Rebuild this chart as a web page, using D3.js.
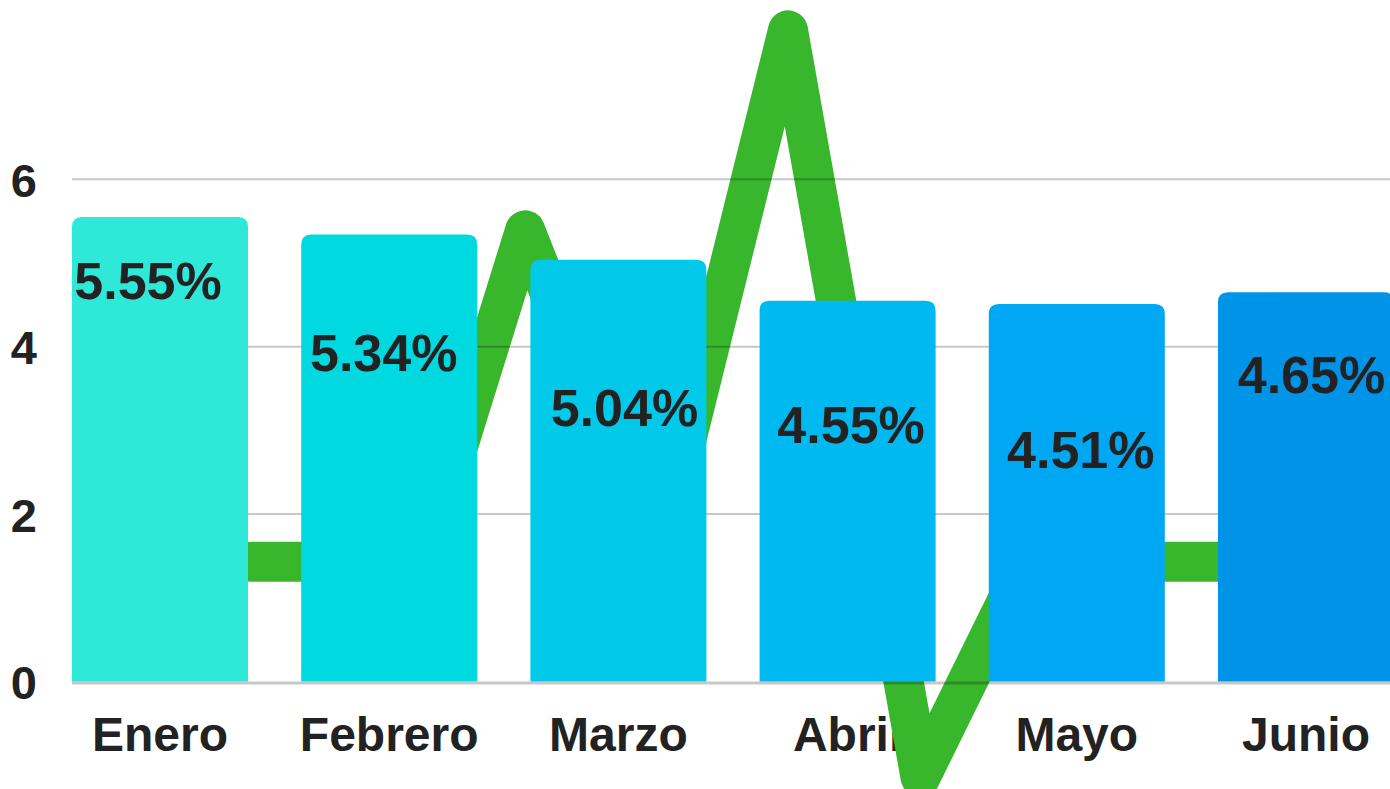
<!DOCTYPE html>
<html>
<head>
<meta charset="utf-8">
<script src="https://cdn.jsdelivr.net/npm/d3@7/dist/d3.min.js"></script>
<style>
  html, body { margin: 0; padding: 0; background: #fff; overflow: hidden; }
  svg { display: block; font-family: "Liberation Sans", Arial, sans-serif; }
</style>
</head>
<body>
<div id="chart"></div>
<script>
const months = ['Enero', 'Febrero', 'Marzo', 'Abril', 'Mayo', 'Junio'];
const rates = [5.55, 5.34, 5.04, 4.55, 4.51, 4.65];
const barColors = ['#2ee9d7', '#00d9e0', '#00c9ea', '#00b9f1', '#00a8f3', '#0094e9'];
const yTicks = [0, 2, 4, 6];

// green line: position along the month axis (0 = Enero ... 5 = Junio) and value
const lineIdx = [0.40, 1.143, 1.593, 2.164, 2.740, 3.318, 3.780, 4.80];
const lineValues = [1.43, 1.43, 5.39, 1.43, 7.78, -1.14, 1.43, 1.43];

// hand placed value labels: shift from bar centre, baseline below bar top
const labelNudge = [[-12, 82], [-5.5, 136], [6, 166], [3.5, 142], [4, 164], [5.5, 101]];

const width = 1390, height = 789;
const svg = d3.select('#chart').append('svg')
    .attr('width', width).attr('height', height);

const x = d3.scaleBand().domain(months).range([72, 1394]).paddingInner(0.232).paddingOuter(0);
const bw = x.bandwidth();
const y = d3.scaleLinear().domain([0, 6]).range([681.5, 179.3]);
const xLine = d3.scaleLinear().domain([0, 5])
    .range([x(months[0]) + bw / 2, x(months[5]) + bw / 2]);

// month labels (the line runs over them)
svg.append('g').selectAll('text').data(months).join('text')
    .attr('x', d => x(d) + bw / 2).attr('y', 751)
    .attr('text-anchor', 'middle')
    .attr('font-size', 48).attr('font-weight', 'bold').attr('fill', '#222')
    .text(d => d);

// line
const line = d3.line().x(d => xLine(d[0])).y(d => y(d[1]));
svg.append('path')
    .datum(lineIdx.map((v, i) => [v, lineValues[i]]))
    .attr('fill', 'none').attr('stroke', '#38b72c')
    .attr('stroke-width', 40).attr('stroke-linejoin', 'round').attr('stroke-linecap', 'round')
    .attr('d', line);

// grid lines over the line, under the bars
svg.append('g').selectAll('line').data(yTicks).join('line')
    .attr('x1', 72).attr('x2', 1394)
    .attr('y1', d => d === 0 ? y(d) + 1.5 : y(d))
    .attr('y2', d => d === 0 ? y(d) + 1.5 : y(d))
    .attr('stroke', 'rgba(0,0,0,0.22)')
    .attr('stroke-width', d => d === 0 ? 3 : 2);

// bars with rounded tops
const r = 10;
function barPath(x0, y0, w, h) {
    return `M${x0},${y0 + h}V${y0 + r}Q${x0},${y0} ${x0 + r},${y0}H${x0 + w - r}` +
        `Q${x0 + w},${y0} ${x0 + w},${y0 + r}V${y0 + h}Z`;
}
svg.append('g').selectAll('path').data(rates).join('path')
    .attr('fill', (d, i) => barColors[i])
    .attr('d', (d, i) => barPath(x(months[i]), y(d), bw, y(0) - y(d)));

// value labels
svg.append('g').selectAll('text').data(rates).join('text')
    .attr('x', (d, i) => x(months[i]) + bw / 2 + labelNudge[i][0])
    .attr('y', (d, i) => y(d) + labelNudge[i][1])
    .attr('text-anchor', 'middle')
    .attr('font-size', 52).attr('font-weight', 'bold').attr('fill', '#222')
    .text(d => d.toFixed(2) + '%');

// y axis labels
const yAxis = d3.axisLeft(y).tickValues(yTicks).tickSize(0).tickPadding(0).tickFormat(d3.format('d'));
const ya = svg.append('g').attr('transform', 'translate(37,0)').call(yAxis);
ya.select('.domain').remove();
ya.selectAll('text')
    .attr('font-size', 47).attr('font-weight', 'bold').attr('fill', '#222')
    .attr('font-family', '"Liberation Sans", Arial, sans-serif')
    .attr('dy', '0.36em');
</script>
</body>
</html>
